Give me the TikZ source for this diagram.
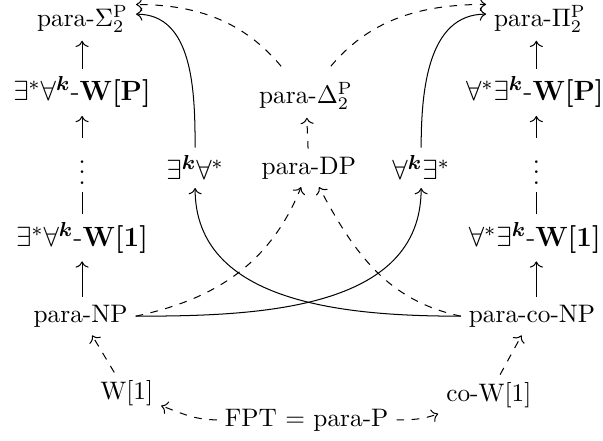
\documentclass[tikz,border=0pt]{standalone}
\usepackage{amsmath, amssymb}
\usepackage{tikz}
\usetikzlibrary{arrows.meta, positioning, calc}
\usepackage{bm}

\begin{document}
\begin{tikzpicture}[
            cnode/.style={inner sep=3pt},
            qnode/.style={inner sep=3pt, font=\fontsize{11}{13}\selectfont},
            arrow/.style={->},
            darrow/.style={->, dashed}
        ]
        \useasboundingbox (0,0) rectangle (8.376,6.112);

        % --- left column ---
        \node[cnode] (Sig) at (1.146, 5.85) {para-$\Sigma_2^{\mathrm{P}}$};
        \node[qnode] (WPl) at (1.14, 4.83) {$\exists^*\forall^{\bm{k}}$-\textbf{W[P]}};
        \node[cnode] (dotsl) at (1.14, 3.82) {$\vdots$};
        \node[qnode] (W1l) at (1.14, 2.81) {$\exists^*\forall^{\bm{k}}$-\textbf{W[1]}};
        \node[cnode] (NP) at (1.12, 1.72) {para-NP};
        \draw[arrow] (NP.north -| W1l) -- (W1l);
        \draw (W1l) -- (dotsl);
        \draw[arrow] (dotsl) -- (WPl);
        \draw[arrow] (WPl) -- (Sig.south -| WPl);

        % --- right column ---
        \node[cnode] (Pi) at (7.50, 5.85) {para-$\Pi_2^{\mathrm{P}}$};
        \node[qnode] (WPr) at (7.43, 4.83) {$\forall^*\exists^{\bm{k}}$-\textbf{W[P]}};
        \node[cnode] (dotsr) at (7.45, 3.82) {$\vdots$};
        \node[qnode] (W1r) at (7.43, 2.81) {$\forall^*\exists^{\bm{k}}$-\textbf{W[1]}};
        \node[cnode] (coNP) at (7.39, 1.72) {para-co-NP};
        \draw[arrow] (coNP.north -| dotsr) -- (W1r.south -| dotsr);
        \draw (W1r.north -| dotsr) -- (dotsr);
        \draw[arrow] (dotsr) -- (WPr.south -| dotsr);
        \draw[arrow] (WPr.north -| dotsr) -- (Pi.south -| dotsr);

        % --- middle ---
        \node[cnode] (Delta) at (4.25, 4.78) {para-$\Delta_2^{\mathrm{P}}$};
        \node[cnode] (DP) at (4.29, 3.78) {para-DP};
        \node[qnode] (EA) at (2.71, 3.78) {$\exists^{\bm{k}}\forall^*$};
        \node[qnode] (AE) at (5.85, 3.78) {$\forall^{\bm{k}}\exists^*$};
        \draw[darrow] (DP) -- (Delta);
        \draw[darrow, shorten <=4pt] (Delta) to[out=130, in=0] (Sig.15);
        \draw[darrow, shorten <=4pt] (Delta) to[out=50, in=180] (Pi.165);
        \draw[arrow] (EA) to[out=90, in=0] (Sig.5);
        \draw[arrow] (AE) to[out=90, in=180] (Pi.175);
        \draw[darrow] (NP.east) to[out=12, in=-112] (DP);
        \draw[darrow] (coNP.west) to[out=168, in=-62] (DP);
        \draw[arrow] (NP.east) to[out=0, in=-90] (AE);
        \draw[arrow] (coNP.west) to[out=180, in=-90] (EA);

        % --- bottom ---
        \node[cnode] (W1) at (1.76, 0.65) {W[1]};
        \node[cnode] (coW1) at (6.79, 0.62) {co-W[1]};
        \node[cnode] (FPT) at (4.26, 0.28) {FPT $=$ para-P};
        \draw[darrow] (W1) -- (NP);
        \draw[darrow] (coW1) -- (coNP);
        \draw[darrow] (FPT) to[out=180, in=-20] (W1);
        \draw[darrow] (FPT) to[out=0, in=200] (coW1);

        \end{tikzpicture}
\end{document}
